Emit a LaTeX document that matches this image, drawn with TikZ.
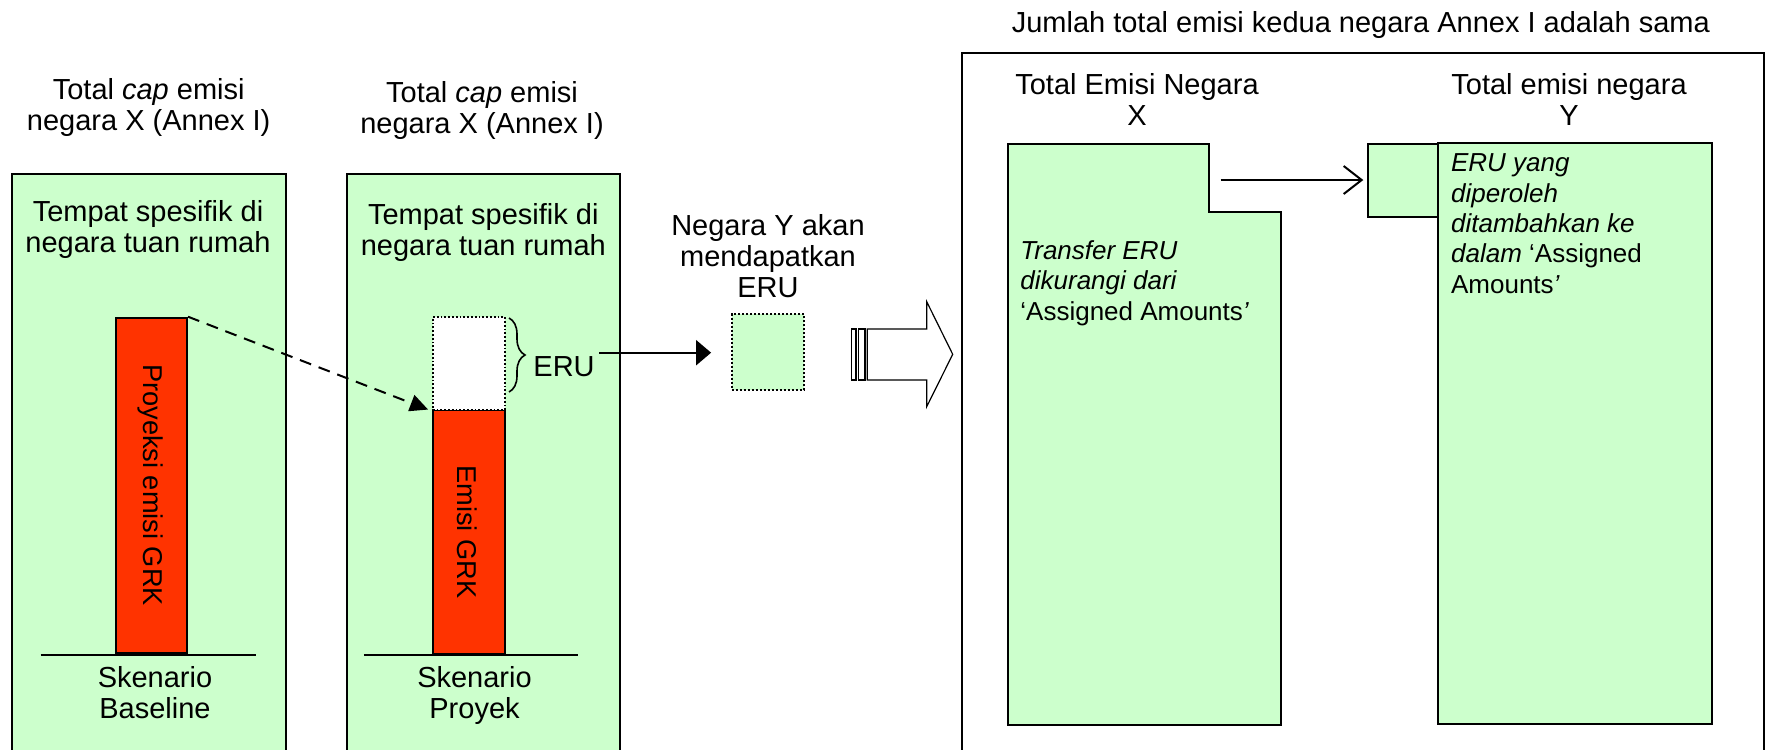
\documentclass[tikz,border=0pt]{standalone}
\usepackage{fontspec}
\setmainfont{Liberation Sans}
\usetikzlibrary{arrows.meta,decorations.pathreplacing}
\definecolor{grn}{HTML}{CCFFCC}
\definecolor{redbar}{HTML}{FF3300}
\newcommand{\ml}[1]{\begin{tabular}[t]{@{}c@{}}#1\end{tabular}}
\newcommand{\mll}[1]{\begin{tabular}[t]{@{}l@{}}#1\end{tabular}}
\tikzset{
  txt/.style={inner sep=0pt, font=\fontsize{14.5pt}{15.5pt}\selectfont},
  stxt/.style={inner sep=0pt, font=\fontsize{13pt}{15.2pt}\selectfont},
  rtxt/.style={inner sep=0pt, font=\fontsize{13.6pt}{15pt}\selectfont},
  panel/.style={draw, fill=grn, line width=1pt},
  barbox/.style={draw, fill=redbar, line width=1pt, rectangle, inner sep=0pt, anchor=north west},
  dotbox/.style={draw, densely dotted, line width=0.9pt, rectangle, inner sep=0pt, anchor=north west},
  sqbox/.style={draw, fill=grn, line width=1pt, rectangle, inner sep=0pt, anchor=north west},
  ground/.style={line width=1pt},
  blockarrow/.style={draw, fill=white, line width=0.6pt, line join=miter},
  conn/.style={line width=1pt},
}
\begin{document}
\begin{tikzpicture}[x=0.5pt,y=-0.5pt]
\useasboundingbox (0,0) rectangle (1765,749);
\clip (0,0) rectangle (1765,749);

% left panels
\draw[panel] (11.7,174) rectangle (285.7,780);
\draw[panel] (347,174) rectangle (620,780);

% big right frame
\draw[line width=0.9pt] (962.3,780) -- (962.3,53.3) -- (1764,53.3) -- (1764,780);

% bars
\node[barbox, minimum width=35.5pt, minimum height=167.6pt] (bar1) at (115,316.7) {};
\node[barbox, minimum width=36.1pt, minimum height=121.8pt] (bar2) at (431.8,409.3) {};
\node[dotbox, fill=white, minimum width=36.1pt, minimum height=46.6pt] (erubox) at (431.8,316) {};

% ground lines
\coordinate (g1a) at (40.7,655); \coordinate (g1b) at (255.7,655);
\coordinate (g2a) at (363.8,655); \coordinate (g2b) at (578,655);
\draw[ground] (g1a) -- (g1b);
\draw[ground] (g2a) -- (g2b);

% rotated labels
\node[rtxt, rotate=-90] (p1) at (150.5,485) {Proyeksi emisi GRK};
\node[rtxt, rotate=-90] (p2) at (467.6,531.7) {Emisi GRK};

% dashed arrow
\draw[conn, dash pattern=on 6pt off 4pt, -{Triangle[length=9pt,width=8.5pt]}, shorten >=2pt]
  (bar1.north east) -- (erubox.south west);

% brace
\coordinate (bra) at (509,318); \coordinate (brb) at (509,392);
\draw[line width=0.8pt, decorate, decoration={brace, amplitude=8pt}] (bra) -- (brb);
\node[txt, anchor=base west] (eru) at (533,376.7) {ERU};

% small ERU square
\node[sqbox, densely dotted, line width=0.9pt, minimum width=36.3pt, minimum height=37.7pt] (sq) at (730.7,313.3) {};
\coordinate (erustart) at (599,352.7);
\draw[conn, -{Triangle[length=7.5pt,width=12.5pt]}, shorten >=9.8pt] (erustart) -- (erustart -| sq.west);

% block arrow
\draw[blockarrow] (867.3,329) -- (926.7,329) -- (926.7,301.7) -- (952.7,354.3) -- (926.7,406.7) -- (926.7,380) -- (867.3,380) -- cycle;
\draw[blockarrow] (851.7,329) rectangle (856,380);
\draw[blockarrow] (858.3,329) rectangle (865,380);

% country X shape
\draw[panel, line join=miter] (1008.3,144) -- (1209.3,144) -- (1209.3,212.3) -- (1281,212.3) -- (1281,725.3) -- (1008.3,725.3) -- cycle;
% country Y
\node[sqbox, minimum width=35.8pt, minimum height=36.65pt] (ysq) at (1366.7,142.7) {};
\draw[panel] (1438.3,142.7) rectangle (1712.3,724);
\coordinate (xout) at (1220.7,180);
\draw[conn, -{Straight Barb[length=9pt,width=14pt]}, shorten >=1.7pt] (xout) -- (xout -| ysq.west);

% texts
\node[txt, anchor=base] (t1) at (148.7,100) {\ml{Total \textit{cap} emisi\\negara X (Annex I)}};
\node[txt, anchor=base] (t2) at (482,103) {\ml{Total \textit{cap} emisi\\negara X (Annex I)}};
\node[txt, anchor=base] (b1t) at (148,221.7) {\ml{Tempat spesifik di\\negara tuan rumah}};
\node[txt, anchor=base] (b2t) at (483.3,224) {\ml{Tempat spesifik di\\negara tuan rumah}};
\node[txt, anchor=base] (s1) at (155,687.3) {\ml{Skenario\\Baseline}};
\node[txt, anchor=base] (s2) at (474.5,687.3) {\ml{Skenario\\Proyek}};
\node[txt, anchor=base] (ny) at (768,235) {\ml{Negara Y akan\\mendapatkan\\ERU}};
\node[txt, anchor=base] (top) at (1360.8,32.3) {Jumlah total emisi kedua negara Annex I adalah sama};
\node[txt, anchor=base] (tx) at (1137,95) {\ml{Total Emisi Negara\\X}};
\node[txt, anchor=base] (ty) at (1569,94.3) {\ml{Total emisi negara\\Y}};
\node[stxt, anchor=base west] (dx) at (1020,259.3) {\mll{\textit{Transfer ERU}\\\textit{dikurangi dari}\\‘Assigned Amounts\textit{’}}};
\node[stxt, anchor=base west] (dy) at (1450.7,171.7) {\mll{\textit{ERU yang}\\\textit{diperoleh}\\\textit{ditambahkan ke}\\\textit{dalam} ‘Assigned\\Amounts\textit{’}}};
\end{tikzpicture}
\end{document}
